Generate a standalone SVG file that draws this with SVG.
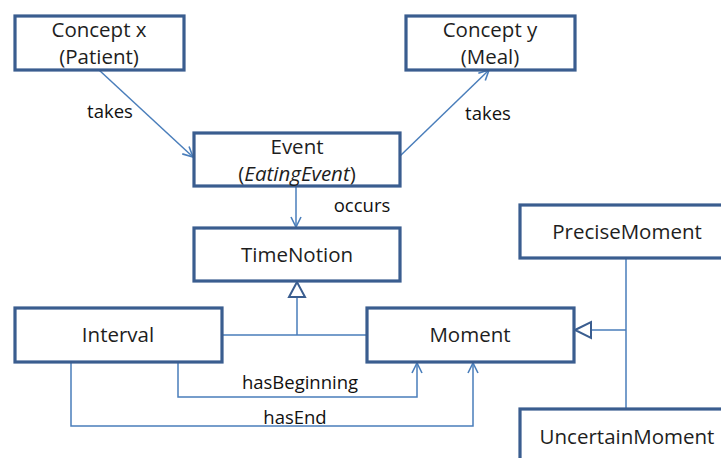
<svg xmlns="http://www.w3.org/2000/svg" width="721" height="458" viewBox="0 0 721 458">
<defs>
<style>
.box{fill:#fff;stroke:#3a5d8f;stroke-width:3.2}
.t{font-family:"Open Sans","Noto Sans",sans-serif;font-size:20.5px;fill:#1e1e1e;text-anchor:middle}
.l{font-family:"Open Sans","Noto Sans",sans-serif;font-size:18.5px;fill:#111;text-anchor:middle}
.c{fill:none;stroke:#4a7ebb;stroke-width:1.5}
.tri{fill:#fff;stroke:#3a5d8f;stroke-width:2}
</style>
<marker id="open" viewBox="0 0 12 12" refX="11" refY="6" markerWidth="12" markerHeight="12" markerUnits="userSpaceOnUse" orient="auto">
<path d="M1,1 L11,6 L1,11" fill="none" stroke="#4a7ebb" stroke-width="1.6"/>
</marker>
</defs>
<rect width="721" height="458" fill="#fff"/>
<g id="connectors">
<path class="c" d="M99,70 L193,157" marker-end="url(#open)"/>
<path class="c" d="M400,156 L489,70" marker-end="url(#open)"/>
<path class="c" d="M296,186 L296,227" marker-end="url(#open)"/>
<path class="c" d="M222,335 L367,335 M297,335 L297,297"/>
<polygon class="tri" points="297,282 289,297 305,297"/>
<path class="c" d="M626,258 L626,409 M626,330 L591,330"/>
<polygon class="tri" points="575,330 591,322 591,338"/>
<path class="c" d="M178,362 L178,397 L417,397 L417,363" marker-end="url(#open)"/>
<path class="c" d="M71,362 L71,426 L473,426 L473,363" marker-end="url(#open)"/>
<text class="l" x="110" y="118">takes</text>
<text class="l" x="488" y="120">takes</text>
<text class="l" x="362" y="212">occurs</text>
<text class="l" x="300" y="389">hasBeginning</text>
<text class="l" x="295" y="424">hasEnd</text>
</g>
<g id="conceptX">
<rect class="box" x="15" y="16" width="169" height="54"/>
<text class="t" x="99" y="37">Concept x</text>
<text class="t" x="99" y="64">(Patient)</text>
</g>
<g id="conceptY">
<rect class="box" x="406" y="16" width="169" height="54"/>
<text class="t" x="490" y="37">Concept y</text>
<text class="t" x="490" y="64">(Meal)</text>
</g>
<g id="event">
<rect class="box" x="194" y="133" width="206" height="53"/>
<text class="t" x="297" y="154">Event</text>
<text class="t" x="297" y="181">(<tspan font-style="italic">EatingEvent</tspan>)</text>
</g>
<g id="timeNotion">
<rect class="box" x="194" y="228" width="206" height="53"/>
<text class="t" x="297" y="262">TimeNotion</text>
</g>
<g id="interval">
<rect class="box" x="15" y="308" width="207" height="54"/>
<text class="t" x="118" y="342">Interval</text>
</g>
<g id="moment">
<rect class="box" x="367" y="308" width="207" height="54"/>
<text class="t" x="470" y="342">Moment</text>
</g>
<g id="preciseMoment">
<rect class="box" x="520" y="205" width="214" height="53"/>
<text class="t" x="627" y="239">PreciseMoment</text>
</g>
<g id="uncertainMoment">
<rect class="box" x="520" y="409" width="214" height="54"/>
<text class="t" x="627" y="444">UncertainMoment</text>
</g>
</svg>
